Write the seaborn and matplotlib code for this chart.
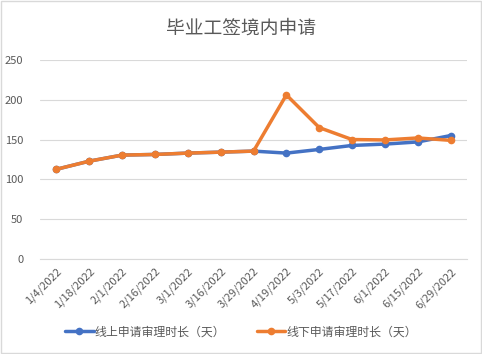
import matplotlib
matplotlib.use("Agg")
import matplotlib.pyplot as plt
import seaborn as sns
import pandas as pd
from matplotlib.patches import Rectangle

dates = ["1/4/2022", "1/18/2022", "2/1/2022", "2/16/2022", "3/1/2022", "3/16/2022",
         "3/29/2022", "4/19/2022", "5/3/2022", "5/17/2022", "6/1/2022", "6/15/2022", "6/29/2022"]
online = [112.7, 122.9, 130.5, 131.3, 133.0, 134.2, 135.5, 133.0, 137.6, 142.6, 144.3, 147.0, 155.0]
offline = [112.7, 122.9, 130.5, 131.3, 133.0, 134.2, 135.5, 206.0, 165.0, 150.0, 149.5, 152.0, 149.0]
series_names = ["线上申请审理时长（天）", "线下申请审理时长（天）"]
yticks = [0, 50, 100, 150, 200, 250]

sns.set_theme(style="white")
plt.rcParams["font.family"] = ["Noto Sans CJK SC", "DejaVu Sans"]

df = pd.DataFrame({
    "date": dates * 2,
    "value": online + offline,
    "series": [series_names[0]] * len(dates) + [series_names[1]] * len(dates),
})

fig = plt.figure(figsize=(4.82, 3.54), dpi=100)
ax = fig.add_axes([0.083, 0.268, 0.886, 0.563])
palette = {series_names[0]: "#4472C4", series_names[1]: "#ED7D31"}
sns.lineplot(data=df, x="date", y="value", hue="series", palette=palette,
             marker="o", markersize=5.5, markeredgewidth=0, linewidth=2.5,
             sort=False, ax=ax, legend=True)

ax.set_xlim(-0.5, len(dates) - 0.5)
ax.set_ylim(0, 250)
ax.set_yticks(yticks)
ax.set_yticklabels([str(v) for v in yticks], fontsize=8, color="#595959")
ax.set_xticks(range(len(dates)))
ax.set_xticklabels(dates, rotation=45, ha="right", rotation_mode="anchor",
                   fontsize=8, color="#595959")
ax.tick_params(axis="both", length=0)
ax.tick_params(axis="y", pad=12)
ax.tick_params(axis="x", pad=5)
ax.grid(axis="y", color="#D9D9D9", linewidth=0.8)
ax.set_axisbelow(True)
for s in ["top", "right", "left"]:
    ax.spines[s].set_visible(False)
ax.spines["bottom"].set_color("#D9D9D9")
ax.spines["bottom"].set_linewidth(0.8)
ax.set_xlabel("")
ax.set_ylabel("")

handles, labels = ax.get_legend_handles_labels()
ax.legend_.remove()
fig.legend(handles, labels, loc="center", bbox_to_anchor=(0.5, 0.062), ncol=2,
           frameon=False, fontsize=8.6, handlelength=2.4, handletextpad=0.1,
           columnspacing=2.6, labelcolor="#595959")

fig.text(0.5, 0.92, "毕业工签境内申请", ha="center", va="center",
         fontsize=13.5, color="#595959")

fig.patches.append(Rectangle((0.002, 0.003), 0.995, 0.994, transform=fig.transFigure,
                             fill=False, edgecolor="#D9D9D9", linewidth=1))

fig.savefig("out.png", dpi=100, facecolor="white")
